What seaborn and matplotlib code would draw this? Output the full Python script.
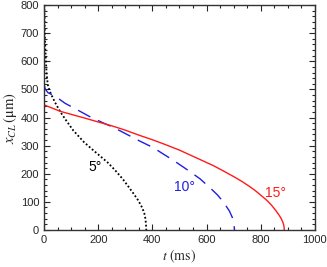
import matplotlib
matplotlib.use('Agg')
import matplotlib.pyplot as plt
import seaborn as sns
from matplotlib.ticker import MultipleLocator

# contact line position x_CL (um) vs time t (ms)
t_5 = [1, 3, 5, 7, 10, 15, 25, 40, 60, 80, 108, 148, 180, 207, 235, 262, 290, 311, 330, 348,
       362, 370, 374, 376, 377, 377.5]
x_5 = [800, 700, 640, 600, 550, 510, 485, 455, 420, 392, 354, 312, 285, 263, 240, 213, 182, 155, 130, 105,
       80, 60, 42, 25, 10, 0]

t_10 = [0, 5, 15, 41, 77, 133, 167, 218, 256, 308, 354, 403, 434, 477, 520, 576, 613, 640, 662,
        684, 695, 700, 702, 703]
x_10 = [518, 500, 488, 476, 451, 422, 404, 381, 365, 339, 316, 293, 274, 248, 220, 182, 150, 125, 100,
        68, 45, 27, 14, 0]

t_15 = [0, 60, 150, 255, 300, 354, 400, 450, 500, 550, 600, 625, 660, 700, 730, 760, 780, 800, 822,
        840, 855, 867, 876, 882, 885, 886.5, 887]
x_15 = [445, 422, 398, 369, 355, 336, 321, 303, 284, 262, 240, 229, 211, 190, 173, 154, 140, 124, 106,
        88, 70, 54, 40, 27, 17, 8, 0]

sns.set_style('ticks')
plt.rcParams['font.family'] = ['Liberation Sans', 'DejaVu Sans']
plt.rcParams['mathtext.fontset'] = 'stix'

fig = plt.figure(figsize=(3.27, 2.67), dpi=100)
ax = fig.add_axes([0.1346, 0.1386, 0.8284, 0.8426])

sns.lineplot(x=t_5, y=x_5, ax=ax, color='black', linestyle=(0, (1, 1.2)),
             linewidth=1.3, sort=False, estimator=None)
sns.lineplot(x=t_10, y=x_10, ax=ax, color='#1f1fdf', linestyle=(0, (10, 6)),
             linewidth=1.0, sort=False, estimator=None)
sns.lineplot(x=t_15, y=x_15, ax=ax, color='#ff1a1a', linewidth=1.0,
             sort=False, estimator=None)

ax.text(188, 225, '5°', color='black', fontsize=10, ha='center', va='center')
ax.text(520, 154, '10°', color='#1f1fdf', fontsize=10, ha='center', va='center')
ax.text(856, 133, '15°', color='#ff1a1a', fontsize=10, ha='center', va='center')

ax.set_xlim(0, 1000)
ax.set_ylim(0, 800)
ax.xaxis.set_major_locator(MultipleLocator(200))
ax.xaxis.set_minor_locator(MultipleLocator(50))
ax.yaxis.set_major_locator(MultipleLocator(100))
ax.yaxis.set_minor_locator(MultipleLocator(20))
ax.tick_params(which='both', direction='in', top=True, right=True, labelsize=8, width=0.8)
ax.tick_params(which='major', length=4)
ax.tick_params(which='minor', length=2)
for s in ax.spines.values():
    s.set_linewidth(1.0)
    s.set_color('#333333')

ax.set_xlabel(r'$t\ (\mathrm{ms})$', fontsize=10, labelpad=2)
ax.set_ylabel(r'$x_{CL}\,(\mathrm{\mu m})$', fontsize=10.5, labelpad=1)

fig.savefig('out.png', dpi=100)
